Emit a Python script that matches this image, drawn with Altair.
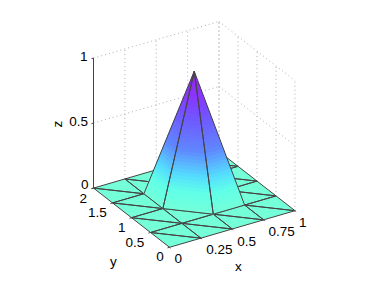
import altair as alt
import pandas as pd

# ---- data ----
x_nodes = [0, 0.25, 0.5, 0.75, 1]
y_nodes = [0, 0.5, 1, 1.5, 2]
# z_values[iy][ix]
z_values = [
    [0, 0, 0, 0, 0],
    [0, 0, 0, 0, 0],
    [0, 0, 0.985, 0, 0],
    [0, 0, 0, 0, 0],
    [0, 0, 0, 0, 0],
]
z_ticks = [0, 0.5, 1]
z_tick_labels = ["0", "0.5", "1"]
x_ticks = [0, 0.25, 0.5, 0.75, 1]
x_tick_labels = ["0", "0.25", "0.5", "0.75", "1"]
y_ticks = [0, 0.5, 1, 1.5, 2]
y_tick_labels = ["0", "0.5", "1", "1.5", "2"]
color_z = [0, 0.14, 0.25, 0.43, 0.65, 0.8, 1]
color_hex = ["#74FFD8", "#60FFE8", "#55DDFF", "#5F88FF", "#7058FF", "#8838FF", "#9A20F0"]

W, H = 358, 265
# view: image position of a 3-D point
O = (169.5, 247.3)
VX = (125.5, -36.6)
VY = (-38.0, -29.6)
VZ = (0.0, -130.0)


def proj(x, y, z):
    return (
        O[0] + VX[0] * x + VY[0] * y + VZ[0] * z,
        O[1] + VX[1] * x + VY[1] * y + VZ[1] * z,
    )


def signed_area(tri, flatten=False):
    p = [proj(t[0], t[1], 0 if flatten else t[2]) for t in tri]
    return (p[1][0] - p[0][0]) * (p[2][1] - p[0][1]) - (p[1][1] - p[0][1]) * (p[2][0] - p[0][0])


def node(ix, iy):
    return (x_nodes[ix], y_nodes[iy], z_values[iy][ix])


tris = []
for iy in range(len(y_nodes) - 1):
    for ix in range(len(x_nodes) - 1):
        a, b, c, d = node(ix, iy), node(ix + 1, iy), node(ix + 1, iy + 1), node(ix, iy + 1)
        tris.append((a, b, d))
        tris.append((b, c, d))

flat = [t for t in tris if max(p[2] for p in t) == 0]
raised = [t for t in tris if max(p[2] for p in t) > 0]
# faces turned away from the viewer are hidden behind the others
front = [t for t in raised if signed_area(t) * signed_area(t, True) > 0]

N_BANDS = 40


def band_rows(tri, start):
    """Split a raised triangle into bands of constant z."""
    rows = []
    zmax = max(p[2] for p in tri)
    dz = zmax / N_BANDS

    def at(level):
        out = []
        for a, b in ((tri[0], tri[1]), (tri[1], tri[2]), (tri[2], tri[0])):
            if a[2] == b[2]:
                continue
            t = (level - a[2]) / (b[2] - a[2])
            out.append(tuple(a[i] + t * (b[i] - a[i]) for i in range(3)))
        return out

    for n in range(N_BANDS):
        l0 = dz * n
        l1 = min(dz * (n + 1.3), zmax)
        a, b = at(l0), at(l1)
        for k, p in enumerate([a[0], a[-1], b[-1], b[0]]):
            u, v = proj(*p)
            rows.append(dict(poly=start + n, k=k, u=u, v=v, c=l0 + dz / 2))
    return rows


def tri_rows(tlist):
    rows = []
    for i, t in enumerate(tlist):
        for k, p in enumerate(t):
            u, v = proj(*p)
            rows.append(dict(poly=i, k=k, u=u, v=v))
    return rows


def edge_rows(tlist):
    rows = []
    eid = 0
    for t in tlist:
        for a, b in ((t[0], t[1]), (t[1], t[2]), (t[2], t[0])):
            for k, p in enumerate((a, b)):
                u, v = proj(*p)
                rows.append(dict(edge=eid, k=k, u=u, v=v))
            eid += 1
    return rows


raised_rows = []
for i, t in enumerate(front):
    raised_rows += band_rows(t, i * N_BANDS)
# floor triangles: raised ones flattened, so the floor has no holes
floor_tris = flat + [tuple((p[0], p[1], 0) for p in t) for t in raised]

floor_df = pd.DataFrame(tri_rows(floor_tris))
floor_edge_df = pd.DataFrame(edge_rows(flat))
raised_df = pd.DataFrame(raised_rows)
raised_edge_df = pd.DataFrame(edge_rows(front))

X = alt.X("u:Q", scale=alt.Scale(domain=[8, 8 + W], range=[0, W]), axis=None)
Y = alt.Y("v:Q", scale=alt.Scale(domain=[8 + H, 8], range=[H, 0]), axis=None)


def seg_df(segs):
    rows = []
    for i, (a, b) in enumerate(segs):
        for k, p in enumerate((a, b)):
            u, v = proj(*p)
            rows.append(dict(seg=i, k=k, u=u, v=v))
    return pd.DataFrame(rows)


def seg_layer(segs, color, width, dash=None):
    kw = dict(color=color, strokeWidth=width, clip=False)
    if dash:
        kw["strokeDash"] = dash
    return (
        alt.Chart(seg_df(segs))
        .mark_line(**kw)
        .encode(x=X, y=Y, detail="seg:N", order="k:Q")
    )


x_max, y_max = x_nodes[-1], y_nodes[-1]
grid = []
for xv in x_ticks[1:]:
    grid.append(((xv, y_max, 0), (xv, y_max, 1)))
for yv in y_ticks:
    grid.append(((x_max, yv, 0), (x_max, yv, 1)))
for zv in z_ticks[1:]:
    grid.append(((0, y_max, zv), (x_max, y_max, zv)))
    grid.append(((x_max, y_max, zv), (x_max, 0, zv)))

axis_segs = [((0, y_max, 0), (0, y_max, 1))]
tick_segs = [((0, y_max, zv), (-0.016, y_max, zv)) for zv in z_ticks]
tick_segs += [((xv, 0, 0), (xv, -0.03, 0)) for xv in x_ticks]
tick_segs += [((0, yv, 0), (-0.016, yv, 0)) for yv in y_ticks]

layers = [seg_layer(grid, "#b0b0b0", 1, [1, 3]), seg_layer(axis_segs, "#444444", 1)]

layers.append(
    alt.Chart(floor_df)
    .mark_line(filled=True, strokeWidth=0, opacity=1, fill=color_hex[0], clip=False)
    .encode(x=X, y=Y, detail="poly:N", order="k:Q")
)
layers.append(
    alt.Chart(floor_edge_df)
    .mark_line(color="#444444", strokeWidth=1, clip=False)
    .encode(x=X, y=Y, detail="edge:N", order="k:Q")
)
color_scale = alt.Scale(domain=color_z, range=color_hex, interpolate="rgb", clamp=True)
layers.append(
    alt.Chart(raised_df)
    .mark_line(filled=True, strokeWidth=0.5, opacity=1, clip=False)
    .encode(x=X, y=Y, detail="poly:N", order="k:Q",
            fill=alt.Fill("c:Q", scale=color_scale, legend=None),
            stroke=alt.Stroke("c:Q", scale=color_scale, legend=None))
)
layers.append(
    alt.Chart(raised_edge_df)
    .mark_line(color="#444444", strokeWidth=1, clip=False)
    .encode(x=X, y=Y, detail="edge:N", order="k:Q")
)
layers.append(seg_layer(tick_segs, "#444444", 1))

# ---- text ----
label_rows = []
for lab, pos in zip(z_tick_labels, [(88.5, 185), (88, 121.5), (87.5, 56.7)]):
    label_rows.append(dict(t=lab, u=pos[0], v=pos[1], a="right"))
for lab, pos in zip(y_tick_labels, [(160, 257), (135, 242.7), (121.7, 228), (97.3, 213), (83.3, 199)]):
    label_rows.append(dict(t=lab, u=pos[0], v=pos[1], a="center"))
for lab, pos in zip(x_tick_labels, [(178.3, 259), (219.3, 250), (246.7, 241.7), (281.7, 232.3), (302.7, 223.3)]):
    label_rows.append(dict(t=lab, u=pos[0], v=pos[1], a="center"))
label_rows.append(dict(t="x", u=238.3, v=266.5, a="center"))
label_rows.append(dict(t="y", u=113.3, v=261.5, a="center"))
lab_df = pd.DataFrame(label_rows)

FS = 13.5
layers.append(
    alt.Chart(lab_df[lab_df.a == "center"])
    .mark_text(font="Liberation Sans", fontSize=FS, align="center", baseline="middle", color="#000000")
    .encode(x=X, y=Y, text="t:N")
)
layers.append(
    alt.Chart(lab_df[lab_df.a == "right"])
    .mark_text(font="Liberation Sans", fontSize=FS, align="right", baseline="middle", color="#000000")
    .encode(x=X, y=Y, text="t:N")
)
layers.append(
    alt.Chart(pd.DataFrame(dict(t=["z"], u=[58.0], v=[124.0])))
    .mark_text(font="Liberation Sans", fontSize=FS, align="center", baseline="middle", angle=270, color="#000000")
    .encode(x=X, y=Y, text="t:N")
)

chart = (
    alt.layer(*layers)
    .properties(width=W, height=H, padding=0, autosize=alt.AutoSizeParams(type="none"))
    .configure_view(stroke=None)
)
chart.save("out.html", embed_options={"renderer": "svg", "actions": False})
